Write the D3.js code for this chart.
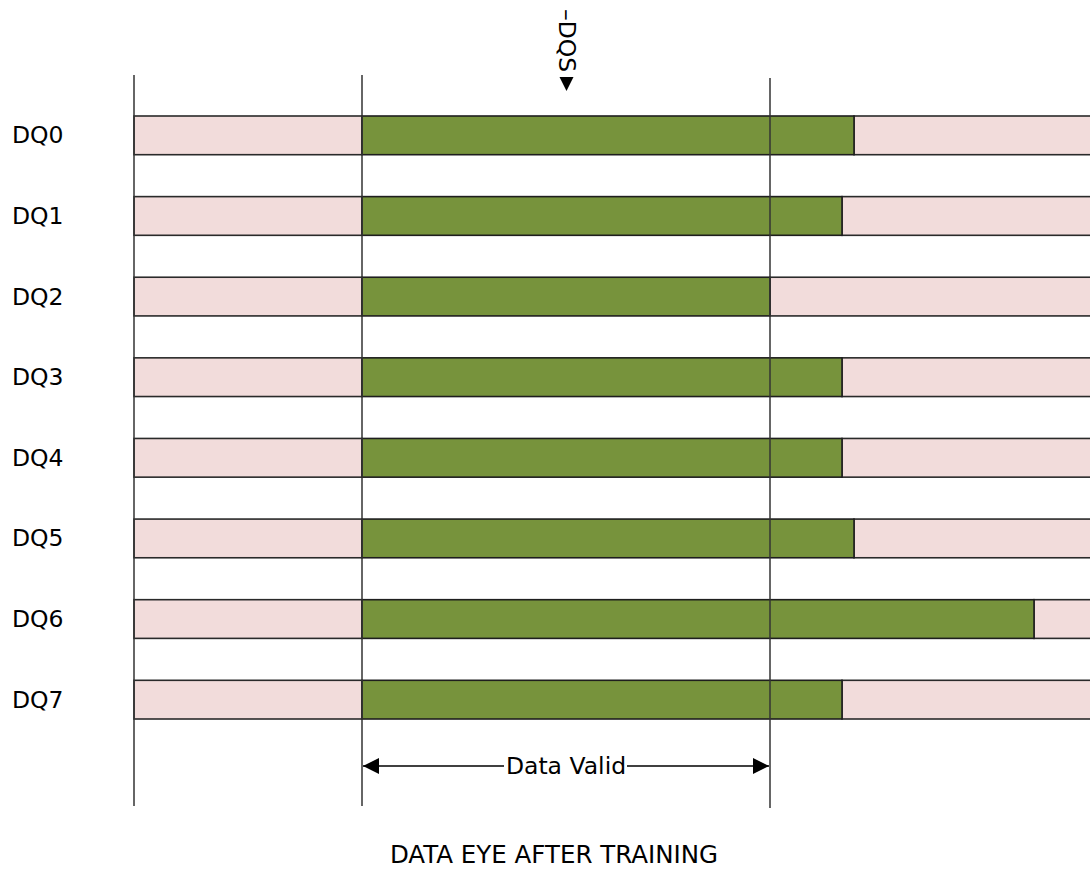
<!DOCTYPE html>
<html>
<head>
<meta charset="utf-8">
<script src="https://cdn.jsdelivr.net/npm/d3@7"></script>
<style>
  body { margin: 0; background: #fff; }
  text { font-family: "DejaVu Sans", Verdana, sans-serif; fill: #000; }
</style>
</head>
<body>
<div id="chart"></div>
<script>
// timing in delay taps
const lanes = ['DQ0', 'DQ1', 'DQ2', 'DQ3', 'DQ4', 'DQ5', 'DQ6', 'DQ7'];
const eyeStart = 19;
const eyeEnd = [60, 59, 53, 59, 59, 60, 75, 59];
const windowEdges = [0, 19, 53];
const validWindow = [19, 53];
const strobeTap = 36;
const tapRange = [0, 80];
const title = 'DATA EYE AFTER TRAINING';

const width = 1090;
const height = 870;
const pink = '#f2dcdb';
const green = '#77933c';
const edge = '#2a2a2a';
const fs = '23.5px';

const svg = d3.select('#chart')
	.append('svg')
	.attr('width', width)
	.attr('height', height);

const x = d3.scaleLinear().domain(tapRange).range([134, 1094]);
const y = d3.scaleBand().domain(lanes).range([116, 719]).paddingInner(0.52).paddingOuter(0);

const defs = svg.append('defs');
defs.append('marker')
	.attr('id', 'arr')
	.attr('viewBox', '0 0 10 10')
	.attr('refX', 10)
	.attr('refY', 5)
	.attr('markerWidth', 16)
	.attr('markerHeight', 16)
	.attr('markerUnits', 'userSpaceOnUse')
	.attr('orient', 'auto-start-reverse')
	.append('path')
	.attr('d', 'M0,0 L10,5 L0,10 Z')
	.attr('fill', '#000');

// lane bars
const rows = svg.selectAll('g.lane')
	.data(lanes)
	.enter()
	.append('g')
	.attr('class', 'lane');

rows.append('rect')
	.attr('x', x(tapRange[0]))
	.attr('y', d => y(d))
	.attr('width', x(eyeStart) - x(tapRange[0]))
	.attr('height', y.bandwidth())
	.attr('fill', pink)
	.attr('stroke', edge)
	.attr('stroke-width', 1.6);

rows.append('rect')
	.attr('x', (d, i) => x(eyeEnd[i]))
	.attr('y', d => y(d))
	.attr('width', (d, i) => x(tapRange[1]) - x(eyeEnd[i]))
	.attr('height', y.bandwidth())
	.attr('fill', pink)
	.attr('stroke', edge)
	.attr('stroke-width', 1.6);

rows.append('rect')
	.attr('x', x(eyeStart))
	.attr('y', d => y(d))
	.attr('width', (d, i) => x(eyeEnd[i]) - x(eyeStart))
	.attr('height', y.bandwidth())
	.attr('fill', green)
	.attr('stroke', '#1e1e1e')
	.attr('stroke-width', 1.6);

rows.append('text')
	.attr('x', 12)
	.attr('y', d => y(d) + y.bandwidth() / 2)
	.attr('dominant-baseline', 'central')
	.style('font-size', fs)
	.text(d => d);

// window edges
svg.selectAll('line.edge')
	.data(windowEdges)
	.enter()
	.append('line')
	.attr('class', 'edge')
	.attr('x1', d => x(d))
	.attr('x2', d => x(d))
	.attr('y1', (d, i) => i == 2 ? 78 : 75)
	.attr('y2', (d, i) => i == 2 ? 808 : 806)
	.attr('stroke', '#333')
	.attr('stroke-width', 1.5);

// data valid arrow
const arrowY = 766;
const mid = (x(validWindow[0]) + x(validWindow[1])) / 2;
svg.append('line')
	.attr('x1', x(validWindow[0]) + 1)
	.attr('x2', mid - 62)
	.attr('y1', arrowY).attr('y2', arrowY)
	.attr('stroke', '#000').attr('stroke-width', 1.3)
	.attr('marker-start', 'url(#arr)');
svg.append('line')
	.attr('x1', mid + 61)
	.attr('x2', x(validWindow[1]) - 1)
	.attr('y1', arrowY).attr('y2', arrowY)
	.attr('stroke', '#000').attr('stroke-width', 1.3)
	.attr('marker-end', 'url(#arr)');
svg.append('text')
	.attr('x', mid)
	.attr('y', arrowY)
	.attr('text-anchor', 'middle')
	.attr('dominant-baseline', 'central')
	.style('font-size', fs)
	.text('Data Valid');

// strobe marker
const sx = x(strobeTap) + 0.5;
svg.append('text')
	.attr('transform', 'translate(' + sx + ',9) rotate(90)')
	.attr('x', 0)
	.attr('y', 0)
	.attr('dominant-baseline', 'central')
	.style('font-size', fs)
	.text('\u2013DQS');
svg.append('path')
	.attr('d', 'M' + (sx - 7) + ',77 L' + (sx + 7) + ',77 L' + sx + ',91 Z')
	.attr('fill', '#000');

svg.append('text')
	.attr('x', 554)
	.attr('y', 863)
	.attr('text-anchor', 'middle')
	.style('font-size', '24.5px')
	.text(title);
</script>
</body>
</html>
